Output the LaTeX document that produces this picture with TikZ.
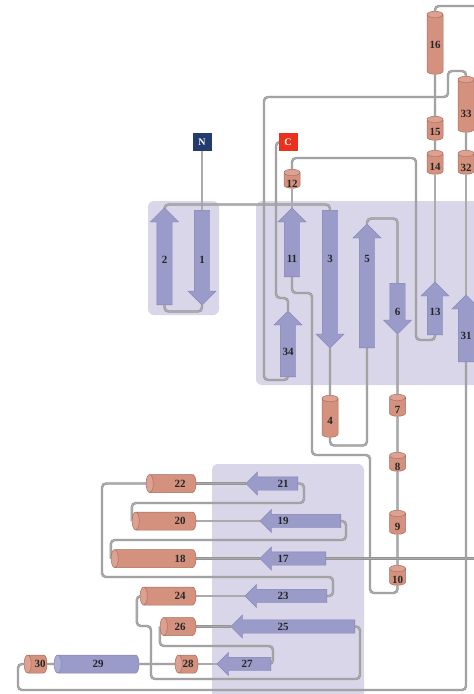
\documentclass[tikz,border=0pt]{standalone}
\usepackage{fontspec}
\setmainfont{Liberation Serif}
\usetikzlibrary{shapes.arrows,shapes.geometric}

\definecolor{strandfill}{HTML}{9A9BC9}
\definecolor{strandline}{HTML}{8182B5}
\definecolor{helixfill}{HTML}{D4917E}
\definecolor{helixcap}{HTML}{DDA192}
\definecolor{helixline}{HTML}{A86C5D}
\definecolor{bluefill}{HTML}{9A9BC9}
\definecolor{bluecap}{HTML}{ABACD3}
\definecolor{sheetbg}{HTML}{D9D6E9}
\definecolor{linkcol}{HTML}{939393}
\definecolor{linkcore}{HTML}{ABABAB}
\definecolor{nterm}{HTML}{233B6E}
\definecolor{cterm}{HTML}{E8321E}

\pgfdeclarelayer{sheets}
\pgfdeclarelayer{links}
\pgfsetlayers{sheets,links,main}

\tikzset{
  strand/.style={single arrow, fill=strandfill, draw=strandline, line width=0.4pt,
    inner sep=0pt, anchor=tail},
  vstrand/.style={strand, text width=15pt, minimum width=28, single arrow head extend=6.5},
  hstrand/.style={strand, text height=8pt, text depth=5pt, minimum width=23,
    single arrow head extend=5, shape border rotate=180},
  helix/.style={cylinder, draw=helixline, line width=0.5pt, cylinder uses custom fill,
    cylinder body fill=helixfill, cylinder end fill=helixcap, inner sep=0pt, aspect=0.4},
  vhelix/.style={helix, shape border rotate=90, text width=16pt, minimum width=16},
  hhelix/.style={helix, shape border rotate=180, text height=12pt, text depth=6pt,
    minimum width=18},
  lab/.style={inner sep=0pt, font=\bfseries\fontsize{11}{11}\selectfont, text=black!85},
  link/.style={draw=linkcol, line width=0.5pt, double=linkcore, double distance=1.4pt,
    rounded corners=4pt},
  sheet/.style={fill=sheetbg, rounded corners=6pt},
  term/.style={minimum width=19, minimum height=18, inner sep=0pt, text=white,
    font=\bfseries\fontsize{10}{10}\selectfont}
}

\begin{document}
\begin{tikzpicture}[x=1pt,y=-1pt]
  \useasboundingbox (0,0) rectangle (474,694);

  % termini
  \node[term, fill=nterm] (N) at (202,142) {N};
  \node[term, fill=cterm] (C) at (288,142) {C};

  % strands
  \node[vstrand, shape border rotate=270, minimum height=95] (s1) at (202,210) {};
  \node[vstrand, shape border rotate=90, minimum height=97] (s2) at (164.5,305) {};
  \node[vstrand, shape border rotate=270, minimum height=138] (s3) at (330,210) {};
  \node[vstrand, shape border rotate=90, minimum height=124] (s5) at (367,348) {};
  \node[vstrand, shape border rotate=270, minimum height=51] (s6) at (397.5,283) {};
  \node[vstrand, shape border rotate=90, minimum height=69] (s11) at (292,277) {};
  \node[vstrand, shape border rotate=90, minimum height=53] (s13) at (435,335) {};
  \node[vstrand, shape border rotate=90, minimum height=67] (s31) at (466,362) {};
  \node[vstrand, shape border rotate=90, minimum height=66] (s34) at (288,377) {};

  \node[hstrand, minimum height=66] (s17) at (326,558.5) {};
  \node[hstrand, minimum height=81] (s19) at (341,521) {};
  \node[hstrand, minimum height=52] (s21) at (298,483.5) {};
  \node[hstrand, minimum height=82] (s23) at (327,596) {};
  \node[hstrand, minimum height=124] (s25) at (355,626.5) {};
  \node[hstrand, minimum height=54] (s27) at (271,664) {};

  % helices
  \node[vhelix, minimum height=42] (h4) at (330,418) {};
  \node[vhelix, minimum height=22] (h7) at (397.5,407) {};
  \node[vhelix, minimum height=19] (h8) at (397.5,463.5) {};
  \node[vhelix, minimum height=24] (h9) at (397.5,524) {};
  \node[vhelix, minimum height=20] (h10) at (397.5,577) {};
  \node[vhelix, minimum height=19] (h12) at (292,180.5) {};
  \node[vhelix, minimum height=24] (h14) at (435,164) {};
  \node[vhelix, minimum height=24] (h15) at (435,130) {};
  \node[vhelix, minimum height=63] (h16) at (435,44.5) {};
  \node[vhelix, minimum height=24] (h32) at (466,164) {};
  \node[vhelix, minimum height=56] (h33) at (466,106) {};

  \node[hhelix, minimum height=85] (h18) at (155.5,558.5) {};
  \node[hhelix, minimum height=64] (h20) at (166,521) {};
  \node[hhelix, minimum height=50] (h22) at (173,483.5) {};
  \node[hhelix, minimum height=56] (h24) at (170,596) {};
  \node[hhelix, minimum height=36] (h26) at (180,626.5) {};
  \node[hhelix, minimum height=23] (h28) at (188.5,664) {};
  \node[hhelix, minimum height=85, draw=strandline, cylinder body fill=bluefill,
    cylinder end fill=bluecap] (h29) at (98.5,664) {};
  \node[hhelix, minimum height=23] (h30) at (37.5,664) {};

  % numbers
  \foreach \n/\x/\y in {1/202/260, 2/164.5/260, 3/330/259, 5/367/259, 6/397.5/312,
      11/292/259, 13/435/312, 31/466/336, 34/288/352,
      17/283/558.5, 19/283/521, 21/283/483.5, 23/283/596, 25/283/626.5, 27/247/664,
      4/330/421, 7/397.5/410, 8/397.5/467, 9/397.5/527, 10/397.5/580, 12/292/184,
      14/435/167, 15/435/132, 16/435/45, 32/466/168, 33/466/114,
      18/180/558.5, 20/180/521, 22/180/483.5, 24/180/596, 26/180/626.5,
      28/188/664, 29/98/664, 30/40/664}
    \node[lab] (t\n) at (\x,\y) {\n};

  % open ends at the right edge
  \coordinate (e16) at (474,6);
  \coordinate (e17) at (474,558.5);

  \begin{pgfonlayer}{links}
    \draw[link] (N.south) -- (s1.tail);
    \draw[link] (s1.tip) -- ++(0,6) -| (s2.tail);
    \draw[link] (s2.tip) -- ++(0,-3) -| (s3.tail);
    \draw[link] (s3.tip) -- (h4.north);
    \draw[link] (h4.south) -- ++(0,8) -| (s5.tail);
    \draw[link] (s5.tip) -- ++(0,-5) -| (s6.tail);
    \draw[link] (s6.tip) -- (h7.north);
    \draw[link] (h7.south) -- (h8.north);
    \draw[link] (h8.south) -- (h9.north);
    \draw[link] (h9.south) -- (h10.north);
    \draw[link] (h10.south) |- (370,593) |- (312,455) -- (312,293) -| (s11.tail);
    \draw[link] (s11.tip) -- (h12.south);
    \draw[link] (h12.north) -- ++(0,-11) -| (416,340) -| (s13.tail);
    \draw[link] (s13.tip) -- (h14.south);
    \draw[link] (h14.north) -- (h15.south);
    \draw[link] (h15.north) -- (h16.south);
    \draw[link] (h16.north) |- (e16);
    \draw[link] (e17) -- (s17.tail);
    \draw[link] (s17.tip) -- (h18.east);
    \draw[link] (h18.west) |- (346,540) |- (s19.tail);
    \draw[link] (s19.tip) -- (h20.east);
    \draw[link] (h20.west) |- (304,503) |- (s21.tail);
    \draw[link] (s21.tip) -- (h22.east);
    \draw[link] (h22.west) -| (102,577) -| (333,596) -- (s23.tail);
    \draw[link] (s23.tip) -- (h24.east);
    \draw[link] (h24.west) -- ++(-3,0) |- (151,626) |- (360,679) |- (s25.tail);
    \draw[link] (s25.tip) -- (h26.east);
    \draw[link] (h26.west) |- (273,646) |- (s27.tail);
    \draw[link] (s27.tip) -- (h28.east);
    \draw[link] (h28.west) -- (h29.east);
    \draw[link] (h29.west) -- (h30.east);
    \draw[link] (h30.west) -| (18,690) -| (s31.tail);
    \draw[link] (s31.tip) -- (h32.south);
    \draw[link] (h32.north) -- (h33.south);
    \draw[link] (h33.north) -- ++(0,-5) -| (448,97) -| (264,380) -| (s34.tail);
    \draw[link] (s34.tip) |- (276,298) |- (C.west);
  \end{pgfonlayer}

  % sheets
  \begin{pgfonlayer}{sheets}
    \fill[sheet] (148,201) rectangle (219,315);
    \fill[sheet] (256,201) rectangle (482,385);
    \fill[sheet] (212,464) rectangle (364,702);
  \end{pgfonlayer}
\end{tikzpicture}
\end{document}
